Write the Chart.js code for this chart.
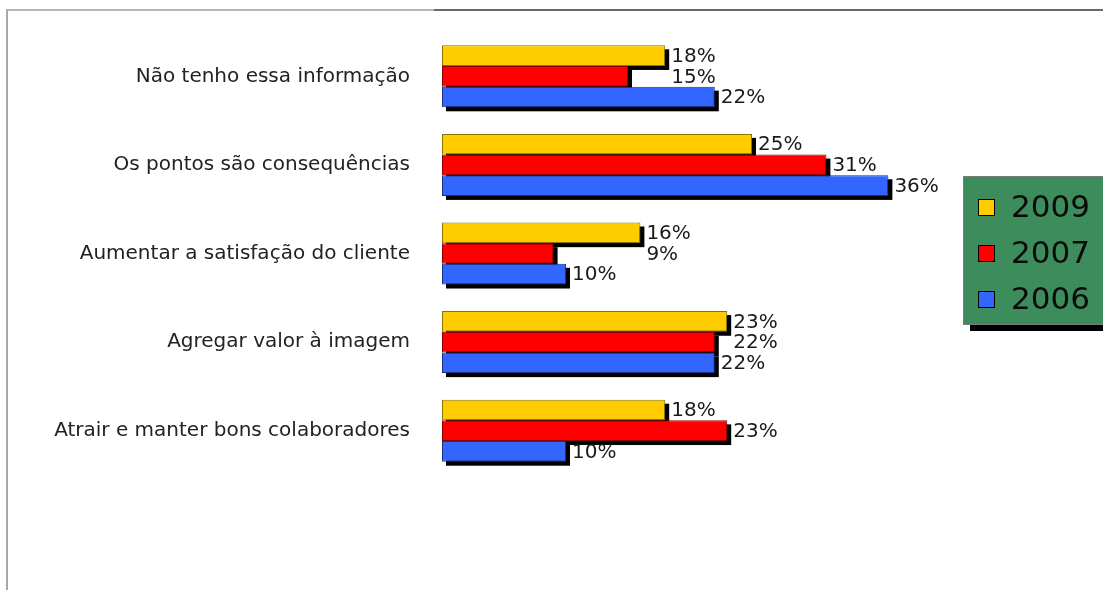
<!DOCTYPE html>
<html>
<head>
<meta charset="utf-8">
<script src="https://cdn.jsdelivr.net/npm/chart.js@4.4.1/dist/chart.umd.min.js"></script>
<style>
  html, body { margin: 0; padding: 0; background: #fff; }
  #wrap { position: relative; width: 1103px; height: 590px; overflow: hidden; }
  #frameL { position: absolute; left: 6px; top: 9px; width: 428px; height: 600px;
            border-top: 2px solid #b5b5b5; border-left: 2px solid #a8a8a8; }
  #frameR { position: absolute; left: 434px; top: 9px; width: 700px; height: 0;
            border-top: 2px solid #6a6a6a; }
  canvas { position: absolute; left: 0; top: 0; }
</style>
</head>
<body>
<div id="wrap">
  <div id="frameL"></div>
  <div id="frameR"></div>
  <canvas id="chart" width="1103" height="590"></canvas>
</div>
<script>
// Kategorien und Werte (in %)
const categories = [
    "Não tenho essa informação",
    "Os pontos são consequências",
    "Aumentar a satisfação do cliente",
    "Agregar valor à imagem",
    "Atrair e manter bons colaboradores"
];
const years = ["2009", "2007", "2006"];
const values2009 = [18, 25, 16, 23, 18];
const values2007 = [15, 31, 9, 22, 23];
const values2006 = [22, 36, 10, 22, 10];

const fillColors = ["#ffcc00", "#ff0000", "#3366ff"];
const edgeColors = ["#8a7400", "#8a0000", "#1a3080"];
const FONT = "'DejaVu Sans', Verdana, sans-serif";

// Schatten hinter den Balken
const shadowPlugin = {
    id: "barShadow",
    beforeDatasetsDraw(chart) {
        const ctx = chart.ctx;
        ctx.save();
        ctx.fillStyle = "#000";
        chart.data.datasets.forEach((ds, i) => {
            chart.getDatasetMeta(i).data.forEach((bar) => {
                const h = bar.height;
                ctx.fillRect(bar.base + 4, bar.y - h / 2 + 4, bar.x - bar.base, h);
            });
        });
        ctx.restore();
    }
};

// Prozentwerte rechts neben den Balken
// (mittlere Reihe rückt hinter den oberen Balken, wenn dieser länger ist)
const valueLabels = {
    id: "valueLabels",
    afterDatasetsDraw(chart) {
        const ctx = chart.ctx;
        const metas = chart.data.datasets.map((ds, i) => chart.getDatasetMeta(i));
        ctx.save();
        ctx.font = "20px " + FONT;
        ctx.fillStyle = "#1a1a1a";
        ctx.textAlign = "left";
        ctx.textBaseline = "middle";
        chart.data.datasets.forEach((ds, i) => {
            metas[i].data.forEach((bar, j) => {
                let endX = bar.x;
                if (i === 1) endX = Math.max(endX, metas[0].data[j].x);
                ctx.fillText(ds.data[j] + "%", endX + 6, bar.y + 1);
            });
        });
        ctx.restore();
    }
};

// Legende im grünen Kasten
const greenLegend = {
    id: "greenLegend",
    afterDraw(chart) {
        const ctx = chart.ctx;
        const x = 963, y = 176, w = 150, h = 148;
        ctx.save();
        ctx.fillStyle = "#000";
        ctx.fillRect(x + 7, y + 7, w, h);
        ctx.fillStyle = "#3d8c5c";
        ctx.fillRect(x, y, w, h);
        ctx.strokeStyle = "#7a7a7a";
        ctx.lineWidth = 1;
        ctx.strokeRect(x + 0.5, y + 0.5, w, h);
        ctx.font = "31px " + FONT;
        ctx.textBaseline = "middle";
        chart.data.datasets.forEach((ds, i) => {
            const cy = y + 31 + i * 46;
            ctx.fillStyle = fillColors[i];
            ctx.fillRect(x + 15, cy - 8, 17, 17);
            ctx.strokeStyle = "#000";
            ctx.strokeRect(x + 15.5, cy - 7.5, 16, 16);
            ctx.fillStyle = "#0a0a0a";
            ctx.fillText(ds.label, x + 48, cy + 2);
        });
        ctx.restore();
    }
};

const series = [values2009, values2007, values2006];

new Chart(document.getElementById("chart"), {
    type: "bar",
    data: {
        labels: categories,
        datasets: series.map((vals, i) => ({
            label: years[i],
            data: vals,
            backgroundColor: fillColors[i],
            borderColor: edgeColors[i],
            borderWidth: 1,
            borderSkipped: false,
            categoryPercentage: 0.7,
            barPercentage: 1.0
        }))
    },
    options: {
        indexAxis: "y",
        responsive: false,
        animation: false,
        layout: { padding: { top: 32, bottom: 115, right: 41, left: 0 } },
        plugins: {
            legend: { display: false },
            tooltip: { enabled: false }
        },
        scales: {
            x: {
                display: false,
                min: 0,
                max: 50
            },
            y: {
                grid: { display: false, drawTicks: false },
                border: { display: false },
                ticks: {
                    color: "#222",
                    font: { family: FONT, size: 20 },
                    padding: 32
                },
                afterFit(scale) {
                    scale.width = 442;
                    // Tick-Padding soll den Plotbereich oben/unten nicht verschieben
                    scale.paddingTop = 0;
                    scale.paddingBottom = 0;
                }
            }
        }
    },
    plugins: [shadowPlugin, valueLabels, greenLegend]
});
</script>
</body>
</html>
